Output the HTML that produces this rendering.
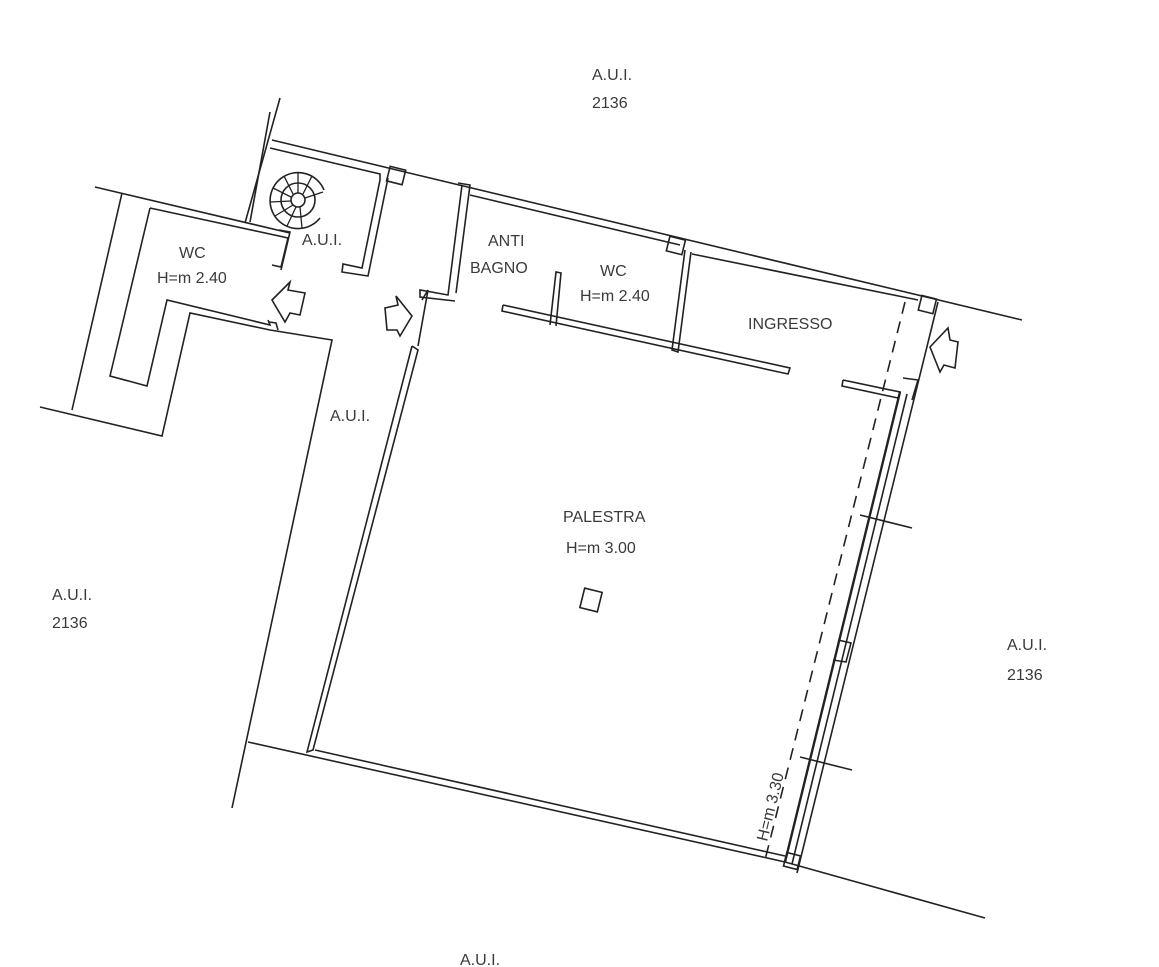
<!DOCTYPE html>
<html><head><meta charset="utf-8"><style>
html,body{margin:0;padding:0;background:#fff;}
svg{display:block;}
text{font-family:"Liberation Sans",sans-serif;fill:#3a3a3a;font-size:16px;}
</style></head><body>
<svg width="1159" height="967" viewBox="0 0 1159 967" xmlns="http://www.w3.org/2000/svg">
<g fill="none" stroke="#222" stroke-width="1.6" stroke-linejoin="miter">
<line x1="280" y1="98" x2="245" y2="223"/>
<line x1="270" y1="112" x2="250" y2="222"/>
<polyline points="272,140 405,172 1022,320"/>
<polyline points="270,148 380,174 380,180 362,268 343,264 342,272 368,276 388,178"/>
<rect x="388" y="168" width="16" height="15" transform="rotate(14 396 176)"/>
<path d="M320,218 A28,28 0 1 1 324,190"/>
<circle cx="298" cy="200" r="17"/>
<circle cx="298" cy="200" r="7"/>
<g stroke-width="1.3">
<line x1="298" y1="172" x2="298" y2="193"/><line x1="312" y1="176" x2="303" y2="194"/>
<line x1="284" y1="176" x2="293" y2="194"/><line x1="273" y1="188" x2="291" y2="197"/>
<line x1="270" y1="202" x2="291" y2="201"/><line x1="275" y1="216" x2="293" y2="205"/>
<line x1="287" y1="226" x2="296" y2="207"/><line x1="302" y1="228" x2="300" y2="207"/>
<line x1="323" y1="192" x2="305" y2="198"/>
</g>
<line x1="95" y1="187" x2="290" y2="233"/>
<polyline points="150,208 288,238 281,267 272,265"/>
<polyline points="279,230 290,232 281,270"/>
<polyline points="150,208 110,376 147,386 167,300 270,325 268,320"/>
<polyline points="122,193 72,410"/>
<polyline points="40,407 162,436 190,313 270,330 332,340 232,808"/>
<polyline points="269,322 276,323 278,330"/>
<polyline points="462,185 448,295 420,290 420,297 455,301"/>
<polyline points="458,183 470,185 456,293"/>
<polyline points="412,346 307,752 313,750 418,350 412,346"/>
<polyline points="422,300 428,290 418,346"/>
<polyline points="470,195 680,245"/>
<rect x="668" y="238" width="16" height="15" transform="rotate(14 676 245)"/>
<polyline points="685,250 672,350 678,352 691,252"/>
<polyline points="550,325 556,272 561,273 556,326"/>
<polyline points="503,305 790,368 788,374 502,311 503,305"/>
<polyline points="692,254 918,300"/>
<rect x="920" y="297" width="15" height="15" transform="rotate(14 927 304)"/>
<line x1="938" y1="302" x2="797" y2="873"/>
<polyline points="843,380 900,392 898,398 842,386 843,380"/>
<line x1="900" y1="392" x2="785" y2="862" stroke-width="2.4"/>
<line x1="907" y1="394" x2="792" y2="864"/>
<polyline points="903,378 918,380 912,400"/>
<line x1="905" y1="302" x2="765" y2="860" stroke-dasharray="12,8"/>
<line x1="860" y1="515" x2="912" y2="528"/>
<line x1="800" y1="757" x2="852" y2="770"/>
<polyline points="838,640 851,643 846,662 833,660"/>
<polyline points="248,742 785,862 985,918"/>
<line x1="315" y1="750" x2="785" y2="856"/>
<rect x="785" y="854" width="14" height="14" transform="rotate(14 792 861)"/>
<rect x="582" y="590" width="18" height="20" transform="rotate(14 591 600)"/>
<polygon points="272,300 290,282 288,290 305,293 300,315 290,313 285,322"/>
<polygon points="412,316 396,296 398,305 385,308 387,330 397,330 400,336"/>
<polygon points="930,347 948,328 950,340 958,342 955,368 944,365 940,372"/>
</g>
<text x="592" y="80">A.U.I.</text>
<text x="592" y="108">2136</text>
<text x="179" y="258">WC</text>
<text x="157" y="283">H=m 2.40</text>
<text x="302" y="245">A.U.I.</text>
<text x="488" y="246">ANTI</text>
<text x="470" y="273">BAGNO</text>
<text x="600" y="276">WC</text>
<text x="580" y="301">H=m 2.40</text>
<text x="748" y="329">INGRESSO</text>
<text x="330" y="421">A.U.I.</text>
<text x="563" y="522">PALESTRA</text>
<text x="566" y="553">H=m 3.00</text>
<text x="52" y="600">A.U.I.</text>
<text x="52" y="628">2136</text>
<text x="1007" y="650">A.U.I.</text>
<text x="1007" y="680">2136</text>
<text x="460" y="965">A.U.I.</text>
<text x="0" y="0" font-size="14" transform="translate(767,842) rotate(-76)">H=m 3.30</text>
</svg>
</body></html>
